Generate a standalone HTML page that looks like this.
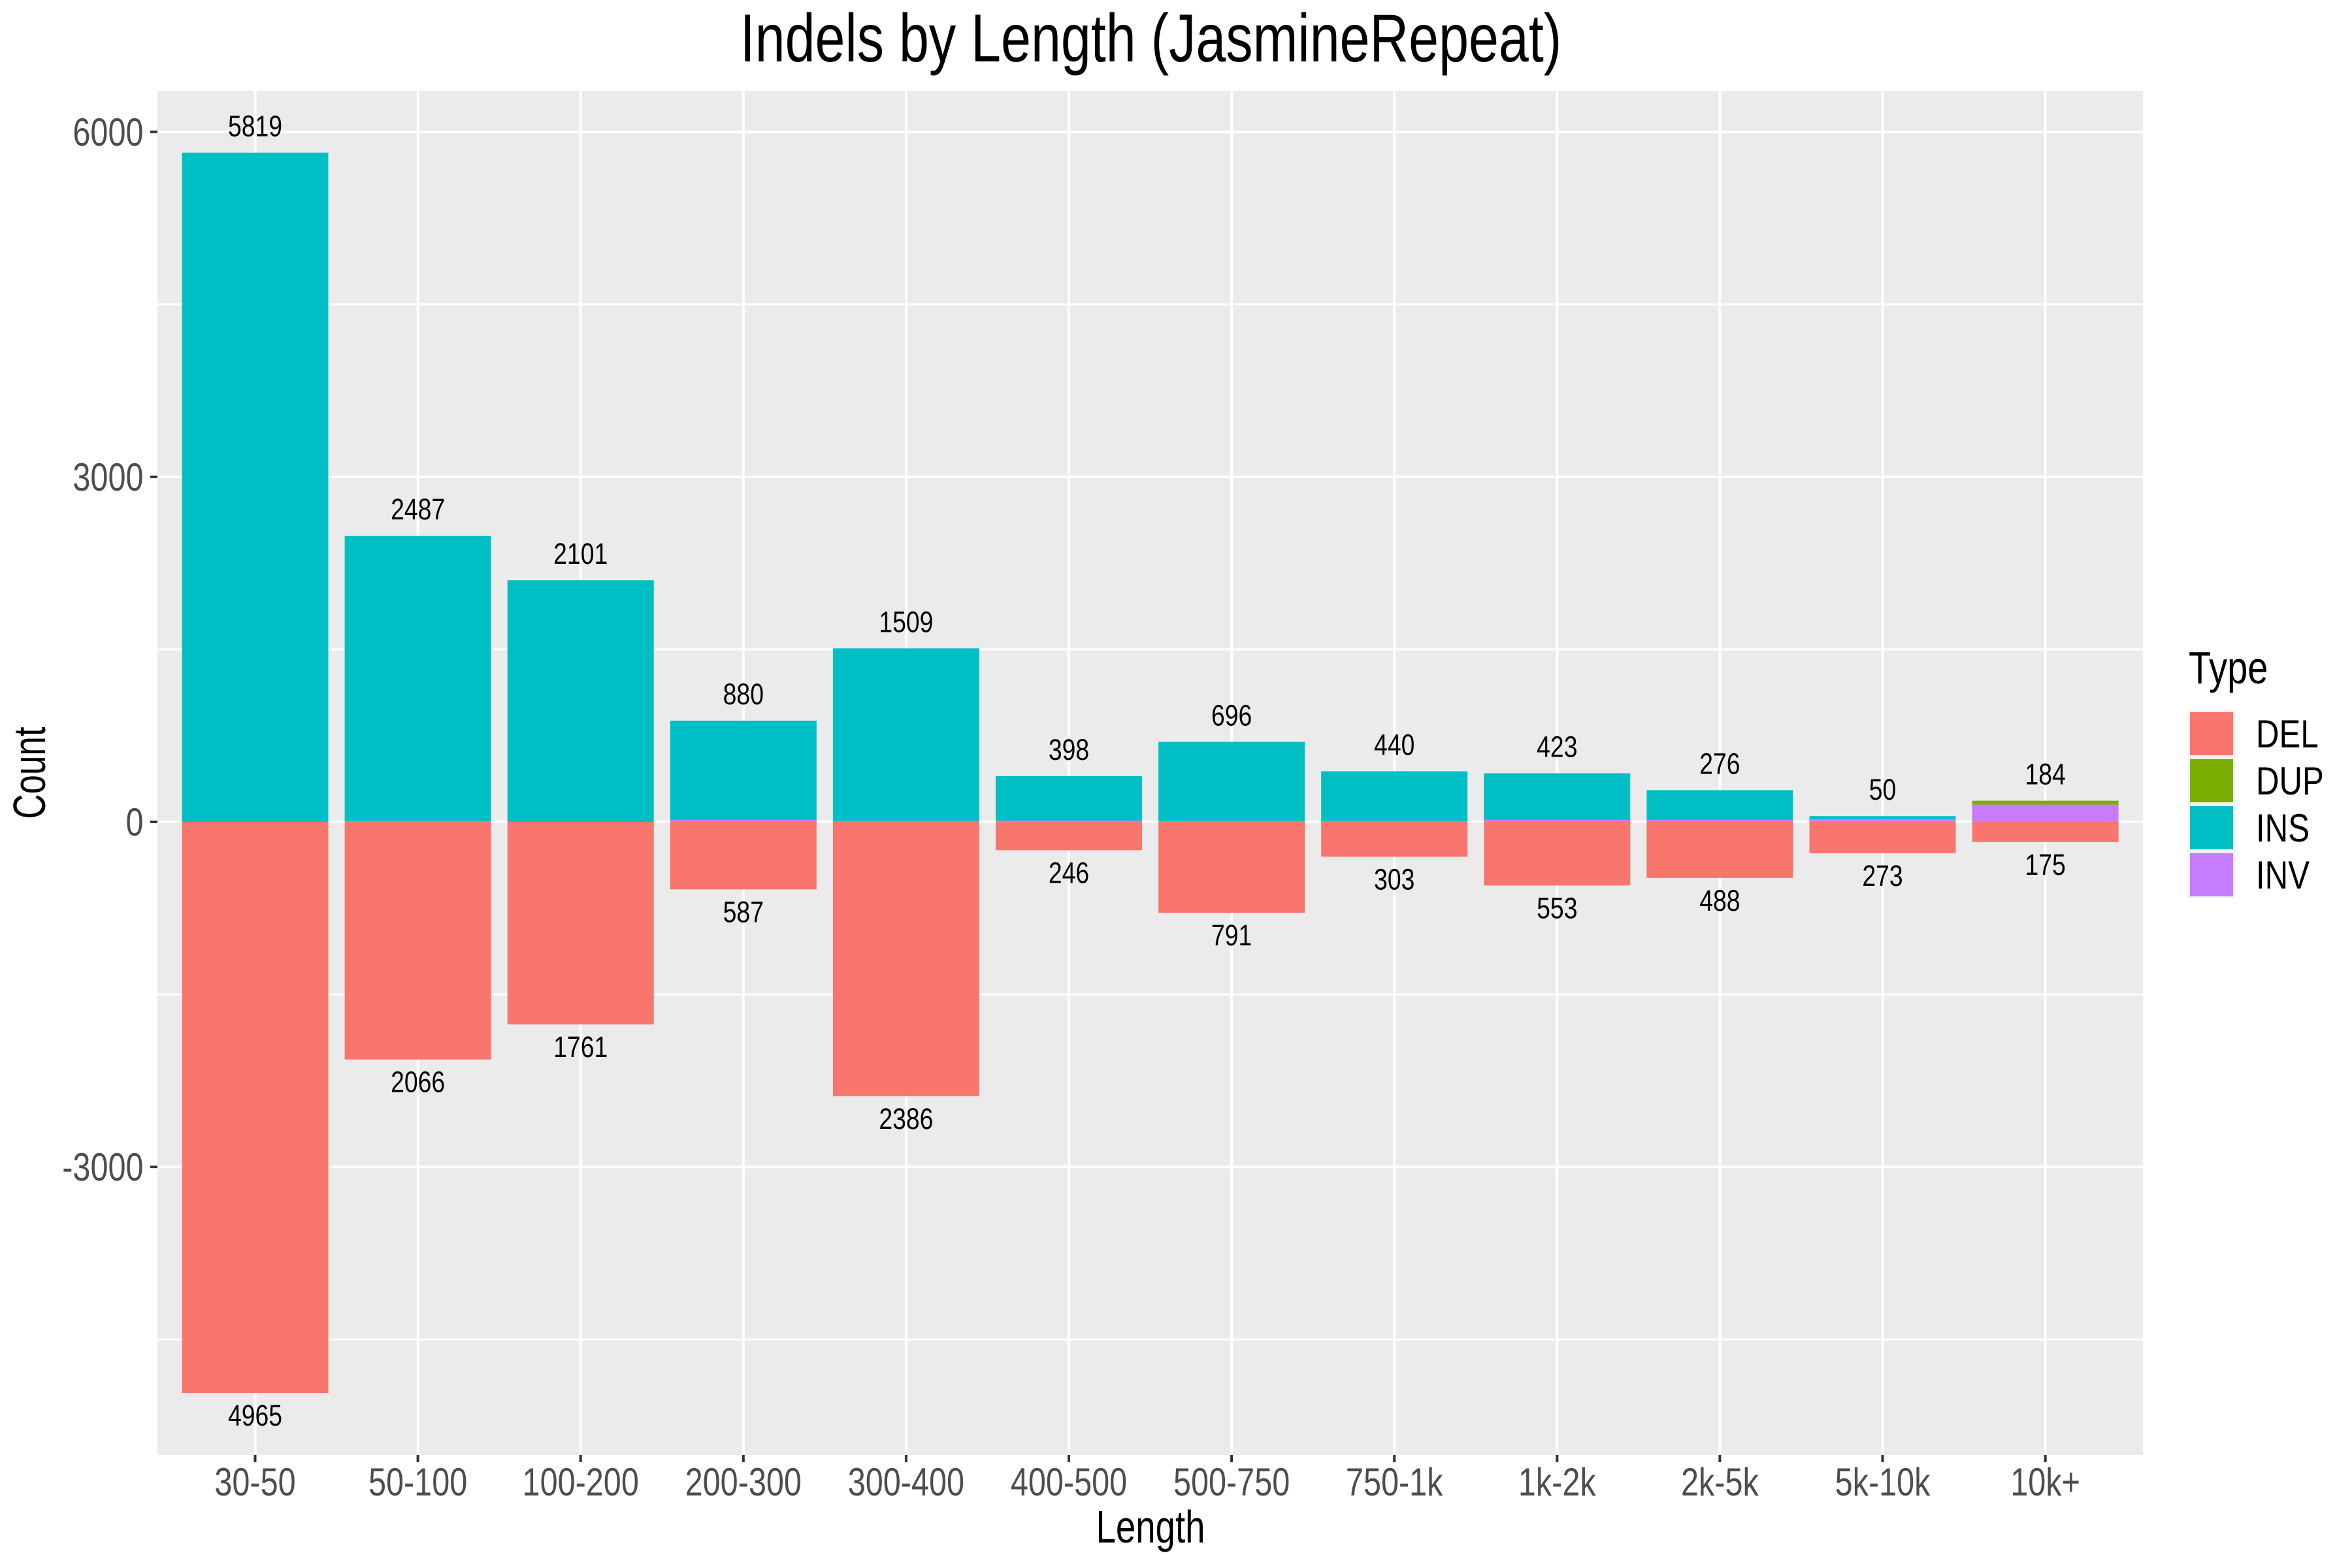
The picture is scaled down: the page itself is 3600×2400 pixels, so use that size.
<!DOCTYPE html>
<html lang="en">
<head>
<meta charset="utf-8">
<title>Indels by Length (JasmineRepeat)</title>
<style>
html,body{margin:0;padding:0;background:#fff;}
svg{display:block;}
text{font-family:"Liberation Sans",Arial,sans-serif;}
</style>
</head>
<body>
<svg id="chart" xmlns="http://www.w3.org/2000/svg" width="3600" height="2400" viewBox="0 0 3600 2400">
  <rect x="0" y="0" width="3600" height="2400" fill="#ffffff"/>
  <rect x="241" y="139" width="3039" height="2088" fill="#ebebeb"/>
  <g id="grid"></g>
  <g id="bars"></g>
  <g id="labels"></g>
  <g id="axes"></g>

  <text transform="translate(1761.5,94) scale(0.794,1)" text-anchor="middle" font-size="104" fill="#000">Indels by Length (JasmineRepeat)</text>
  <text transform="translate(1761,2361) scale(0.78,1)" text-anchor="middle" font-size="70" fill="#000">Length</text>
  <text transform="translate(69,1183) rotate(-90) scale(0.755,1)" text-anchor="middle" font-size="70" fill="#000">Count</text>

  <g>
    <text transform="translate(3350,1046) scale(0.8,1)" font-size="70" fill="#000">Type</text>
    <rect x="3349" y="1087" width="72" height="288" fill="#f2f2f2"/>
    <rect x="3352" y="1090" width="66" height="66" fill="#F8766D"/>
    <rect x="3352" y="1162" width="66" height="66" fill="#7CAE00"/>
    <rect x="3352" y="1234" width="66" height="66" fill="#00BFC4"/>
    <rect x="3352" y="1306" width="66" height="66" fill="#C77CFF"/>
    <text transform="translate(3453,1144) scale(0.82,1)" font-size="60" fill="#000">DEL</text>
    <text transform="translate(3453,1216) scale(0.82,1)" font-size="60" fill="#000">DUP</text>
    <text transform="translate(3453,1288) scale(0.82,1)" font-size="60" fill="#000">INS</text>
    <text transform="translate(3453,1360) scale(0.82,1)" font-size="60" fill="#000">INV</text>
  </g>
</svg>
<script>
const categories = ["30-50","50-100","100-200","200-300","300-400","400-500","500-750","750-1k","1k-2k","2k-5k","5k-10k","10k+"];
const delCounts = [4965,2066,1761,587,2386,246,791,303,553,488,273,175];
const insCounts = [5819,2481,2101,863,1503,387,690,434,406,259,28,0];
const invCounts = [0,6,0,17,6,11,6,6,17,17,22,150];
const dupCounts = [0,0,0,0,0,0,0,0,0,0,0,34];
const yMajorTicks = [6000,3000,0,-3000];
const yMinorTicks = [4500,1500,-1500,-4500];

const COLORS = {del:"#F8766D",dup:"#7CAE00",ins:"#00BFC4",inv:"#C77CFF"};
const NS = "http://www.w3.org/2000/svg";
const PANEL = {left:241,right:3280,top:139,bottom:2227};

function xPos(i){ return 390.5 + i * 249.1; }
function yPos(v){ return 1258 - v * 0.17603; }
const BAR_W = 224;

function mk(tag, parent){
  const el = document.createElementNS(NS, tag);
  parent.appendChild(el);
  return el;
}
function setRect(el,x,y,w,h,fill){
  el.setAttribute('x',x);
  el.setAttribute('y',y);
  el.setAttribute('width',w);
  el.setAttribute('height',h);
  el.setAttribute('fill',fill);
}
function setText(el,x,y,sx,size,fill,anchor,str){
  el.setAttribute('transform','translate('+x+','+y+') scale('+sx+',1)');
  el.setAttribute('font-size',size);
  el.setAttribute('fill',fill);
  el.setAttribute('text-anchor',anchor);
  el.textContent = str;
}

const grid = document.getElementById('grid');
const bars = document.getElementById('bars');
const labels = document.getElementById('labels');
const axes = document.getElementById('axes');

yMinorTicks.forEach(function(v){
  const r = mk('rect',grid);
  setRect(r,PANEL.left,yPos(v)-1.5,PANEL.right-PANEL.left,3,'#ffffff');
  
  
});
yMajorTicks.forEach(function(v){
  const r = mk('rect',grid);
  setRect(r,PANEL.left,yPos(v)-2,PANEL.right-PANEL.left,4,'#ffffff');
  
  

  const t = mk('rect',axes);
  setRect(t,PANEL.left-11,yPos(v)-2,11,4,'#333333');
  
  

  const l = mk('text',axes);
  setText(l,219.5,yPos(v)+21,0.81,60,'#4d4d4d','end',String(v));
  
  
});

categories.forEach(function(c,i){
  const g = mk('rect',grid);
  setRect(g,xPos(i)-2,PANEL.top,4,PANEL.bottom-PANEL.top,'#ffffff');
  
  

  const t = mk('rect',axes);
  setRect(t,xPos(i)-2,PANEL.bottom,4,11,'#333333');
  
  

  const l = mk('text',axes);
  setText(l,xPos(i),2289,0.81,60,'#4d4d4d','middle',c);
  
  

  const left = xPos(i) - BAR_W/2;

  const dh = yPos(-delCounts[i]) - yPos(0);
  const d = mk('rect',bars);
  setRect(d,left,yPos(0),BAR_W,dh,COLORS.del);
  
  

  const invTop = invCounts[i];
  const insTop = invTop + insCounts[i];
  const dupTop = insTop + dupCounts[i];

  const v = mk('rect',bars);
  setRect(v,left,yPos(invTop),BAR_W,yPos(0)-yPos(invTop),COLORS.inv);
  
  

  const n = mk('rect',bars);
  setRect(n,left,yPos(insTop),BAR_W,yPos(invTop)-yPos(insTop),COLORS.ins);
  
  

  const u = mk('rect',bars);
  setRect(u,left,yPos(dupTop),BAR_W,yPos(insTop)-yPos(dupTop),COLORS.dup);
  
  

  const top = mk('text',labels);
  setText(top,xPos(i),yPos(dupTop)-25,0.83,45,'#000000','middle',String(dupTop));
  
  

  const bot = mk('text',labels);
  setText(bot,xPos(i),yPos(-delCounts[i])+50,0.83,45,'#000000','middle',String(delCounts[i]));
  
  
});
</script>
</body>
</html>
